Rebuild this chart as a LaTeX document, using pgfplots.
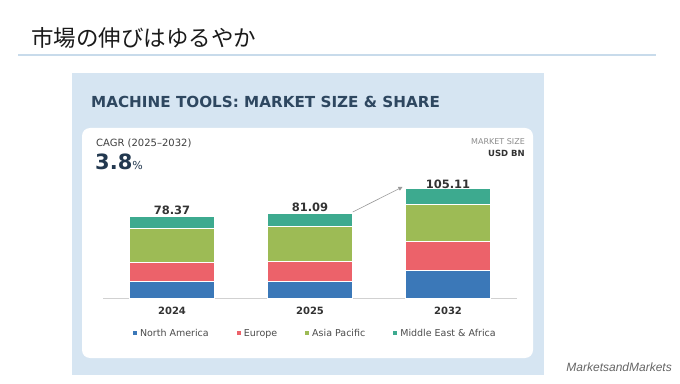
\documentclass[border=0pt]{standalone}
\usepackage{pgfplots}
\pgfplotsset{compat=1.18}
\usepackage{pgfplotstable}
\usepackage{fontspec}
\setmainfont{DejaVu Sans}
\newfontfamily\cjk{Noto Sans CJK JP}
\newfontfamily\lib{Liberation Sans}
\usetikzlibrary{arrows.meta}

\definecolor{cNA}{HTML}{3B78B8}
\definecolor{cEU}{HTML}{EC626A}
\definecolor{cAP}{HTML}{9DBB55}
\definecolor{cME}{HTML}{3DAA8F}
\definecolor{panel}{HTML}{D6E5F2}
\definecolor{linec}{HTML}{C8DBEB}
\definecolor{headc}{HTML}{2E4760}
\definecolor{titlec}{HTML}{1A1A1A}
\definecolor{navy}{HTML}{22384F}

\pgfplotstableread{
x  na    eu    ap    mea    total
0  16.1  18.1  32.9  11.27  78.37
1  16.5  18.7  33.4  12.49  81.09
2  27.0  27.7  35.1  15.31  105.11
}\mydata

\begin{document}
\begin{tikzpicture}
\useasboundingbox (0pt,0pt) rectangle (680pt,383pt);
\begin{scope}[x=1pt,y=1pt]
\fill[white] (0,0) rectangle (680,383);
\node[anchor=west, inner sep=0, font=\cjk\fontsize{22.5}{22.5}\selectfont, text=titlec] at (31,345.5) {市場の伸びはゆるやか};
\draw[linec, line width=2pt] (18,328) -- (656,328);
\fill[panel] (72,8) rectangle (544,310);
\node[anchor=west, inner sep=0, font=\bfseries\fontsize{15.2}{15.2}\selectfont, text=headc] at (91,281) {MACHINE TOOLS: MARKET SIZE \& SHARE};
\fill[white, rounded corners=8pt] (82,25) rectangle (533,255);
\node[anchor=west, inner sep=0, font=\fontsize{10}{10}\selectfont, text=black!75] at (96,240) {CAGR (2025–2032)};
\node[anchor=base west, inner sep=0, text=navy] at (95,213.5) {{\bfseries\fontsize{21}{21}\selectfont 3.8}{\fontsize{11}{11}\selectfont\%}};
\node[anchor=east, inner sep=0, font=\fontsize{8}{8}\selectfont, text=black!45] at (525,241) {MARKET SIZE};
\node[anchor=east, inner sep=0, font=\bfseries\fontsize{8.5}{8.5}\selectfont, text=black!80] at (525,230) {USD BN};
\node[anchor=east, inner sep=0, font=\lib\itshape\fontsize{12}{12}\selectfont, text=black!60] at (672,16) {MarketsandMarkets};
\end{scope}
\begin{axis}[
  at={(103pt,84.7pt)}, anchor=south west,
  scale only axis, width=414pt, height=120pt,
  xmin=-0.5, xmax=2.5, ymin=0, ymax=114.7,
  ybar stacked, bar width=85pt,
  axis x line*=bottom, axis y line=none,
  x axis line style={draw=black!18, line width=0.8pt, -},
  xtick={0,1,2}, xticklabels={2024,2025,2032},
  major tick length=0pt,
  xticklabel style={font=\bfseries\fontsize{10}{10}\selectfont, text=black!80, yshift=-5.5pt},
  clip=false,
  legend columns=4,
  legend style={at={(0.072,-0.293)}, anchor=west, draw=none, fill=none,
    inner sep=0pt, font=\fontsize{9.5}{9.5}\selectfont, text=black!70,
    /tikz/every even column/.append style={column sep=26pt},
    /tikz/every odd column/.append style={column sep=1pt}},
  legend cell align=left,
  legend image code/.code={\draw[#1,draw=none] (0pt,-2pt) rectangle (4pt,2pt);},
]
\addplot[fill=cNA, draw=white, line width=0.4pt] table[x=x,y=na] {\mydata};
\addlegendentry{North America}
\addplot[fill=cEU, draw=white, line width=0.4pt] table[x=x,y=eu] {\mydata};
\addlegendentry{Europe}
\addplot[fill=cAP, draw=white, line width=0.4pt] table[x=x,y=ap] {\mydata};
\addlegendentry{Asia Pacific}
\addplot[fill=cME, draw=white, line width=0.4pt,
  point meta=explicit,
  nodes near coords={\pgfmathprintnumber[fixed,fixed zerofill,precision=2,assume math mode=true]{\pgfplotspointmeta}},
  every node near coord/.append style={anchor=south, yshift=4.5pt, font=\bfseries\fontsize{11.5}{11.5}\selectfont, text=black!80}
  ] table[x=x,y=mea,meta=total] {\mydata};
\addlegendentry{Middle East \& Africa}
\draw[black!40, line width=0.6pt, -{Triangle[length=4pt,width=4pt]}] (axis cs:1.31,82.5) -- (axis cs:1.67,106.4);
\end{axis}
\end{tikzpicture}
\end{document}
